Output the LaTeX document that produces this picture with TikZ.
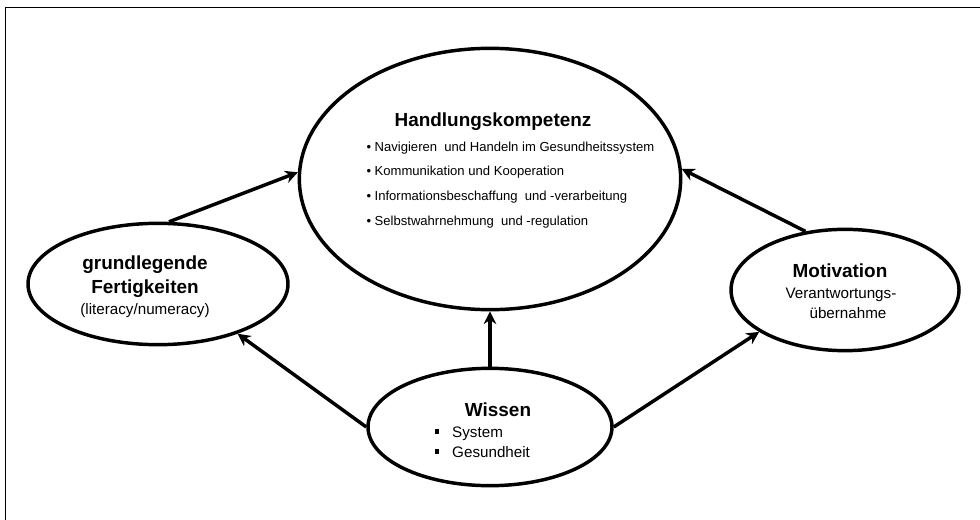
\documentclass[tikz,border=0pt]{standalone}
\usepackage{fontspec}
\setmainfont{Liberation Sans}
\usetikzlibrary{shapes.geometric,arrows.meta}

\tikzset{every picture/.style={line width=0.75pt}}
\tikzset{
  oval/.style={ellipse, draw, line width=2.6pt, inner sep=0pt},
  head/.style={anchor=base, inner sep=0pt, font=\fontsize{14.2}{17}\selectfont\bfseries},
  txt/.style={inner sep=0pt, font=\fontsize{11.4}{14}\selectfont},
  item/.style={anchor=base west, inner sep=0pt, font=\fontsize{9.8}{12}\selectfont},
  link/.style={line width=2.6pt, -{Stealth[length=9.5pt,width=9.5pt]}}
}

\begin{document}
\begin{tikzpicture}[x=0.75pt,y=0.75pt,yscale=-1,xscale=1]
\useasboundingbox (0,0) rectangle (980,520);

%Frame (only top and left edge in view)
\draw [line width=1.2pt] (5.5,520) -- (5.5,7.5) -- (980,7.5) ;

%Shape: Ellipse
\node [oval, minimum width=286pt, minimum height=196pt] (hk) at (490,179) {};
%Shape: Ellipse
\node [oval, minimum width=195pt, minimum height=91pt] (gf) at (158,284) {};
%Shape: Ellipse
\node [oval, minimum width=171pt, minimum height=91pt] (mo) at (845,290) {};
%Shape: Ellipse
\node [oval, minimum width=183pt, minimum height=88pt] (wi) at (490,427) {};

% Text Node
\node [head] (hkt) at (493,127) {Handlungskompetenz};
% Text Node
\node [item] (hk1) at (366,152) {\textbullet\ Navigieren\ \ und Handeln im Gesundheitssystem};
% Text Node
\node [item] (hk2) at (366,176) {\textbullet\ Kommunikation und Kooperation};
% Text Node
\node [item] (hk3) at (366,200) {\textbullet\ Informationsbeschaffung\ \ und -verarbeitung};
% Text Node
\node [item] (hk4) at (366,225) {\textbullet\ Selbstwahrnehmung\ \ und -regulation};

% Text Node
\node [head] (gft1) at (145,269) {grundlegende};
% Text Node
\node [head] (gft2) at (145,293) {Fertigkeiten};
% Text Node
\node [txt, anchor=base] (gft3) at (145,314) {(literacy/numeracy)};

% Text Node
\node [head] (mot1) at (840,277) {Motivation};
% Text Node
\node [txt, anchor=base] (mot2) at (841,298) {Verantwortungs-};
% Text Node
\node [txt, anchor=base] (mot3) at (848,318) {übernahme};

% Text Node
\node [head] (wit1) at (498,416) {Wissen};
% Text Node
\node [txt, anchor=base west] (wit2) at (434,437) {\rule[2.6pt]{3.7pt}{3.7pt}\hspace{9.6pt}System};
% Text Node
\node [txt, anchor=base west] (wit3) at (434,457) {\rule[2.6pt]{3.7pt}{3.7pt}\hspace{9.6pt}Gesundheit};

%Straight Lines [arrows]
\draw [link] (wi.north) -- (hk.south) ;
\draw [link] (wi.west) -- (gf.-32) ;
\draw [link] (wi.east) -- (mo.206) ;
\draw [link] (gf.80) -- (hk.178) ;
\draw [link] (mo.124) -- (hk.3) ;

\end{tikzpicture}
\end{document}
